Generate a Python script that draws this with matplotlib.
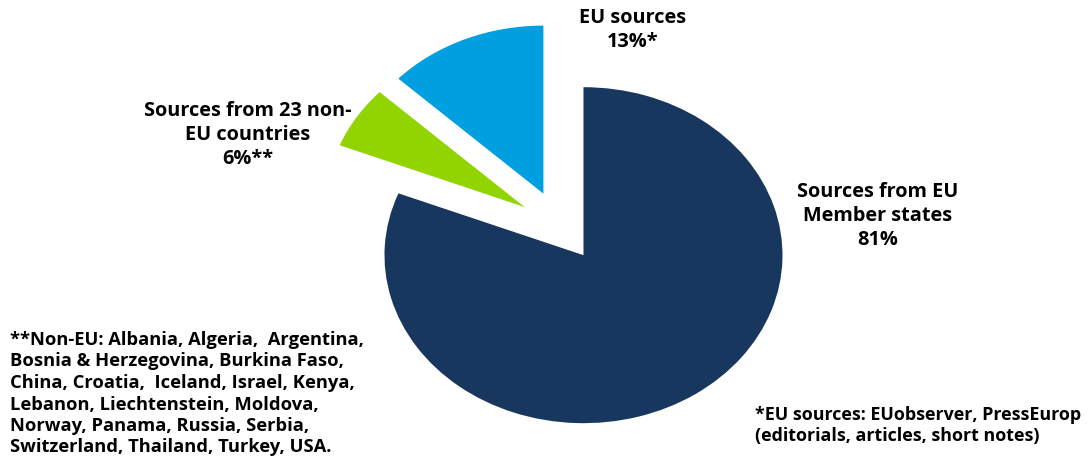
import matplotlib
matplotlib.use("Agg")
import matplotlib.pyplot as plt

labels = ["Sources from EU\nMember states\n81%", "Sources from 23 non-\nEU countries\n6%**", "EU sources\n13%*"]
values = [81, 6, 13]
colors = ["#17375E", "#92D400", "#009FDF"]
explode = [0.21, 0.21, 0.21]

note_left = ("**Non-EU: Albania, Algeria,  Argentina,\n"
             "Bosnia & Herzegovina, Burkina Faso,\n"
             "China, Croatia,  Iceland, Israel, Kenya,\n"
             "Lebanon, Liechtenstein, Moldova,\n"
             "Norway, Panama, Russia, Serbia,\n"
             "Switzerland, Thailand, Turkey, USA.")
note_right = "*EU sources: EUobserver, PressEurop\n(editorials, articles, short notes)"

plt.rcParams['font.family'] = ['Open Sans', 'DejaVu Sans']

W, H = 1092, 464
fig = plt.figure(figsize=(W / 100, H / 100), dpi=100)
cx, cy = 560, H - 227
rx, ry = 199, 168
ax = fig.add_axes([(cx - 2.5 * rx) / W, (cy - 1.3 * ry) / H, 5 * rx / W, 2.6 * ry / H])
ax.pie(values, colors=colors, explode=explode, startangle=90, counterclock=False,
       wedgeprops=dict(linewidth=0))
ax.set_aspect('auto')
ax.set_xlim(-2.5, 2.5)
ax.set_ylim(-1.3, 1.3)
ax.axis('off')

def px(x, y):
    return x / W, 1 - y / H

tk = dict(fontsize=14.3, fontweight='bold', color='black', linespacing=1.28)
fig.text(*px(633, 8), labels[2], ha='center', va='top', **tk)
fig.text(*px(248, 101), labels[1], ha='center', va='top', **tk)
fig.text(*px(878, 182), labels[0], ha='center', va='top', **tk)

nk = dict(fontsize=13.2, fontweight='bold', color='black', linespacing=1.25)
fig.text(*px(10, 331), note_left, ha='left', va='top', **nk)
fig.text(*px(755, 406), note_right, ha='left', va='top',
         **dict(nk, fontsize=12.9))

fig.savefig("out.png", dpi=100)
